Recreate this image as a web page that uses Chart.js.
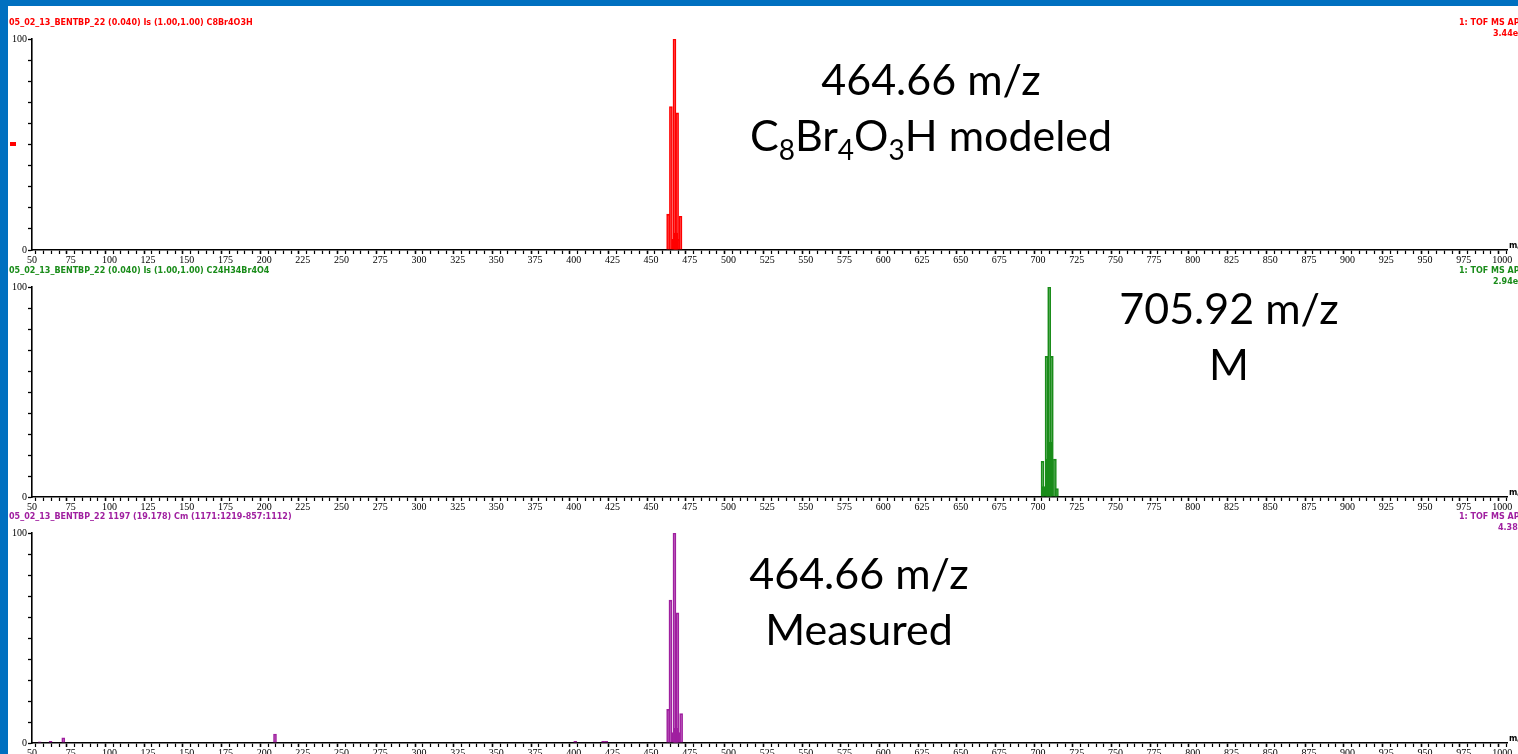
<!DOCTYPE html>
<html>
<head>
<meta charset="utf-8">
<script src="https://cdn.jsdelivr.net/npm/chart.js@4.4.1/dist/chart.umd.min.js"></script>
<style>
  body { margin: 0; width: 1518px; height: 754px; overflow: hidden; background: #fff; position: relative; }
  canvas { position: absolute; left: 0; }
  .frame { position: absolute; background: #0070c0; z-index: 5; }
  .note { position: absolute; font-family: Lato, sans-serif; font-size: 43px; line-height: 56px;
          color: #000; text-align: center; transform: translateX(-50%); white-space: nowrap; z-index: 4; }
  .note sub { font-size: 28px; line-height: 0; vertical-align: -9px; }
  .mark { position: absolute; left: 10px; top: 142px; width: 6px; height: 4px; background: #ff0000; z-index: 4; }
</style>
</head>
<body>
<div class="frame" style="left:0;top:0;width:8px;height:754px"></div>
<div class="frame" style="left:0;top:0;width:1518px;height:6px"></div>
<div class="mark"></div>

<canvas id="modeled" width="1518" height="261" style="top:9px"></canvas>
<canvas id="parent" width="1518" height="260" style="top:257px"></canvas>
<canvas id="measured" width="1518" height="260" style="top:503px"></canvas>

<div class="note" style="left:931px;top:51px">464.66 m/z<br>C<sub>8</sub>Br<sub>4</sub>O<sub>3</sub>H modeled</div>
<div class="note" style="left:1229px;top:280px">705.92 m/z<br>M</div>
<div class="note" style="left:859px;top:545px">464.66 m/z<br>Measured</div>

<script>
// m/z values and relative intensities (%)
const modeledMz  = [461.0, 462.8, 464.3, 465.1, 465.6, 466.2, 466.8, 467.5, 469.0];
const modeledInt = [17, 68, 5, 100, 8, 8, 65, 5, 16];

const parentMz  = [702.9, 703.5, 705.5, 706.3, 707.2, 708.1, 708.9, 710.9, 712.2];
const parentInt = [17, 5, 67, 18, 100, 26, 67, 18, 4];

const measuredMz  = [55, 62, 70.2, 207, 401, 419, 421, 461.0, 462.5, 464.5, 465.1, 465.6, 466.2, 467.0, 467.6, 469.4];
const measuredInt = [0.6, 0.8, 2.5, 4.3, 0.8, 0.8, 0.8, 16, 68, 5, 100, 7, 7, 62, 5, 14];

const xTicks = [];
for (let v = 50; v <= 1000; v += 5) xTicks.push(v);
const yTicks = [0, 10, 20, 30, 40, 50, 60, 70, 80, 90, 100];

const titles = {
    modeled: '05_02_13_BENTBP_22 (0.040) Is (1.00,1.00) C8Br4O3H',
    parent: '05_02_13_BENTBP_22 (0.040) Is (1.00,1.00) C24H34Br4O4',
    measured: '05_02_13_BENTBP_22 1197 (19.178) Cm (1171:1219-857:1112)'
};
const scaleText = { modeled: '3.44e4', parent: '2.94e4', measured: '4.38e4' };

// header texts of each trace, drawn above the plot area
const headerPlugin = {
    id: 'header',
    afterDraw(chart, args, opts) {
        const c = chart.ctx, a = chart.chartArea;
        c.save();
        c.fillStyle = opts.color;
        c.font = 'bold 8px "DejaVu Sans"';
        c.textBaseline = 'middle';
        c.textAlign = 'left';
        c.fillText(opts.title, 9, a.top - 16);
        c.fillText('1: TOF MS AP+', 1459, a.top - 16);
        c.fillText(opts.scale, opts.scaleX, a.top - 5);
        c.fillStyle = '#000';
        c.fillText('m/z', 1509, a.bottom - 4);
        c.restore();
    }
};

function makePanel(id, mz, ints, color, fill, scaleX) {
    const ctx = document.getElementById(id).getContext('2d');
    return new Chart(ctx, {
        type: 'bar',
        data: {
            datasets: [{
                data: mz.map((x, i) => ({ x: x, y: ints[i] })),
                backgroundColor: fill,
                borderColor: color,
                borderWidth: 1,
                borderSkipped: 'bottom',
                barThickness: 3
            }]
        },
        plugins: [headerPlugin],
        options: {
            responsive: false,
            animation: false,
            layout: { padding: { top: 30, right: 11, left: 0, bottom: 0 } },
            plugins: {
                legend: { display: false },
                tooltip: { enabled: false },
                header: { title: titles[id], scale: scaleText[id], color: color, scaleX: scaleX }
            },
            scales: {
                x: {
                    type: 'linear',
                    min: 50,
                    max: 1003,
                    offset: false,
                    afterBuildTicks: s => { s.ticks = xTicks.map(v => ({ value: v })); },
                    afterFit: s => { s.height = 20; },
                    ticks: {
                        autoSkip: false,
                        maxRotation: 0,
                        padding: 0,
                        color: '#000',
                        font: { family: 'Liberation Serif', size: 10 },
                        callback: v => (v % 25 === 0 ? v : '')
                    },
                    grid: {
                        drawOnChartArea: false,
                        tickLength: 4,
                        tickColor: '#000',
                        tickWidth: c => (c.tick && c.tick.value % 25 === 0 ? 1.6 : 1.2)
                    },
                    border: { color: '#000', width: 1.6 }
                },
                y: {
                    min: 0,
                    max: 100,
                    afterBuildTicks: s => { s.ticks = yTicks.map(v => ({ value: v })); },
                    afterFit: s => { s.width = 32; },
                    ticks: {
                        padding: 1,
                        color: '#000',
                        font: { family: 'Liberation Serif', size: 10 },
                        callback: v => (v === 0 || v === 100 ? v : '')
                    },
                    grid: { drawOnChartArea: false, tickLength: 4, tickColor: '#000', tickWidth: 1.3 },
                    border: { color: '#000', width: 1.6 }
                }
            }
        }
    });
}

makePanel('modeled', modeledMz, modeledInt, '#ff0000', 'rgba(255,0,0,0.35)', 1493);
makePanel('parent', parentMz, parentInt, '#1a8c1a', 'rgba(26,140,26,0.35)', 1493);
makePanel('measured', measuredMz, measuredInt, '#a020a0', 'rgba(160,32,160,0.35)', 1498);
</script>
</body>
</html>
